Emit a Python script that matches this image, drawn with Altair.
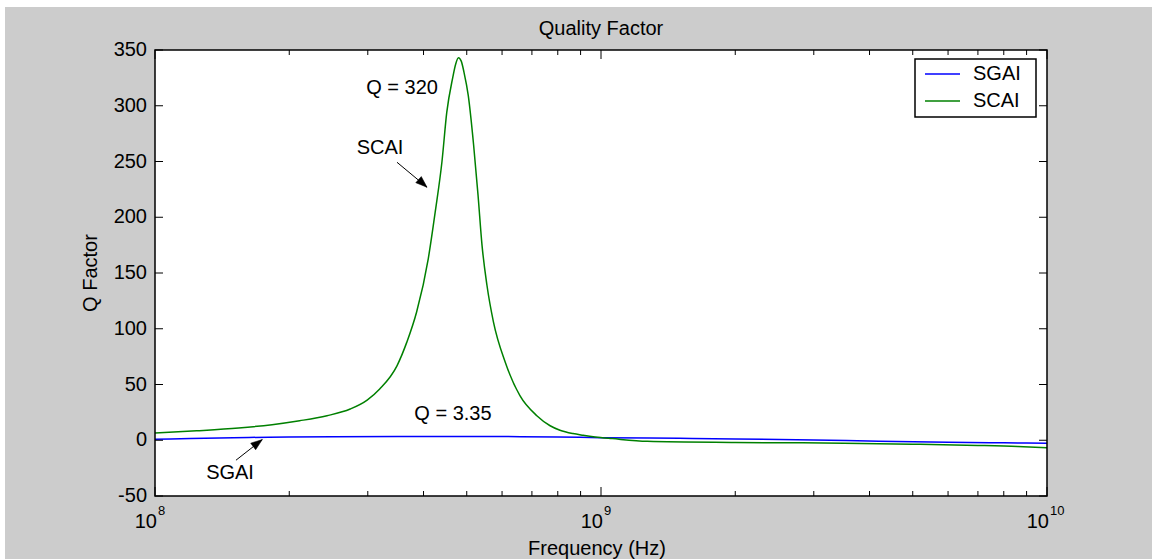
import altair as alt
import pandas as pd

# ---------------- data ----------------
scai_freq = [1.00e8, 1.24e8, 1.54e8, 1.83e8, 2.11e8, 2.43e8, 2.74e8, 2.99e8, 3.19e8,
             3.49e8, 3.67e8, 3.86e8, 4.10e8, 4.25e8, 4.40e8, 4.51e8, 4.65e8, 4.72e8,
             4.79e8, 4.86e8, 4.93e8, 5.04e8, 5.18e8, 5.30e8, 5.41e8, 5.55e8, 5.74e8,
             6.10e8, 6.58e8, 7.18e8, 7.69e8, 8.09e8, 8.65e8, 9.12e8, 9.70e8, 1.06e9,
             1.27e9, 2.0e9, 3.5e9, 5.0e9, 7.0e9, 8.6e9, 1.0e10]
scai_q = [6.5, 8.5, 11, 14, 17.5, 22, 28, 36, 46,
          67, 88, 115, 163, 205, 250, 294, 325, 337,
          343, 340, 330, 309, 265, 220, 175, 139, 106,
          70, 40, 22, 13, 9, 6, 4.5, 3, 1.5,
          -1, -2, -2.6, -3.5, -4.6, -5.6, -6.8]

sgai_freq = [1.0e8, 1.2e8, 1.5e8, 1.8e8, 2.5e8, 3.5e8, 4.8e8, 6.0e8, 8.0e8, 1.0e9,
             1.5e9, 2.0e9, 3.0e9, 4.2e9, 6.0e9, 8.0e9, 1.0e10]
sgai_q = [1.0, 1.5, 2.2, 2.8, 3.1, 3.3, 3.35, 3.3, 2.9, 2.3,
          1.7, 1.2, 0.2, -0.8, -1.7, -2.3, -2.8]

series_names = ["SGAI", "SCAI"]
series_colors = ["#0000ff", "#008000"]

y_ticks = [-50, 0, 50, 100, 150, 200, 250, 300, 350]
y_tick_labels = ["-50", "0", "50", "100", "150", "200", "250", "300", "350"]
x_major = [1e8, 1e9, 1e10]
x_major_exp = ["8", "9", "10"]
x_minor = [2e8, 3e8, 4e8, 5e8, 6e8, 7e8, 8e8, 9e8,
           2e9, 3e9, 4e9, 5e9, 6e9, 7e9, 8e9, 9e9]

chart_title = "Quality Factor"
x_title = "Frequency (Hz)"
y_title = "Q Factor"

# annotations (data coordinates)
ann_text = ["Q = 320", "SCAI", "Q = 3.35", "SGAI"]
ann_freq = [3.58e8, 3.196e8, 4.656e8, 1.473e8]
ann_q = [315.7, 261.9, 23.3, -29.6]

arrow_start_freq = [3.488e8, 1.519e8]
arrow_start_q = [249.3, -17.9]
arrow_tip_freq = [4.073e8, 1.740e8]
arrow_tip_q = [226.9, 0.6]
arrow_angle = [132, 53]

FONT = "Liberation Sans"
FS = 20
W, H = 892, 446

# ---------------- tables ----------------
lines_df = pd.DataFrame({
    "freq": sgai_freq + scai_freq,
    "q": sgai_q + scai_q,
    "series": ["SGAI"] * len(sgai_freq) + ["SCAI"] * len(scai_freq),
})
ytick_df = pd.DataFrame({"q": y_ticks, "label": y_tick_labels})
xmaj_df = pd.DataFrame({"freq": x_major, "base": ["10"] * 3, "exp": x_major_exp})
xmin_df = pd.DataFrame({"freq": x_minor})
ann_df = pd.DataFrame({"freq": ann_freq, "q": ann_q, "label": ann_text})
arrow_df = pd.DataFrame({"freq": arrow_start_freq, "q": arrow_start_q,
                         "freq2": arrow_tip_freq, "q2": arrow_tip_q})
head_df = pd.DataFrame({"freq": arrow_tip_freq, "q": arrow_tip_q, "angle": arrow_angle})
one = pd.DataFrame({"a": [0]})

xscale = alt.Scale(type="log", domain=[1e8, 1e10], nice=False)
yscale = alt.Scale(domain=[-50, 350], nice=False, zero=False)
cscale = alt.Scale(domain=series_names, range=series_colors)

Xn = alt.X("freq:Q", scale=xscale, axis=None)
Yn = alt.Y("q:Q", scale=yscale, axis=None)


def txt(**kw):
    base = dict(font=FONT, fontSize=FS, color="black")
    base.update(kw)
    return base


lines = alt.Chart(lines_df).mark_line(strokeWidth=1.5, clip=True, interpolate="monotone").encode(
    x=Xn, y=Yn,
    color=alt.Color("series:N", scale=cscale, legend=None),
    detail="series:N",
)

ytick_l = alt.Chart(ytick_df).mark_rule(color="black").encode(
    y=Yn, x=alt.value(0), x2=alt.value(8))
ytick_r = alt.Chart(ytick_df).mark_rule(color="black").encode(
    y=Yn, x=alt.value(W - 8), x2=alt.value(W))
ylab = alt.Chart(ytick_df).mark_text(**txt(align="right", baseline="middle")).encode(
    y=Yn, x=alt.value(-8), text="label:N")

xmaj_b = alt.Chart(xmaj_df).mark_rule(color="black").encode(
    x=Xn, y=alt.value(H), y2=alt.value(H - 9))
xmaj_t = alt.Chart(xmaj_df).mark_rule(color="black").encode(
    x=Xn, y=alt.value(0), y2=alt.value(9))
xmin_b = alt.Chart(xmin_df).mark_rule(color="black").encode(
    x=Xn, y=alt.value(H), y2=alt.value(H - 5))
xmin_t = alt.Chart(xmin_df).mark_rule(color="black").encode(
    x=Xn, y=alt.value(0), y2=alt.value(5))

xlab_base = alt.Chart(xmaj_df).mark_text(**txt(align="right", baseline="alphabetic", dx=2)).encode(
    x=Xn, y=alt.value(H + 32), text="base:N")
xlab_exp = alt.Chart(xmaj_df).mark_text(**txt(fontSize=13, align="left", baseline="alphabetic", dx=3)).encode(
    x=Xn, y=alt.value(H + 19), text="exp:N")

title_txt = alt.Chart(one).mark_text(**txt(align="center", baseline="alphabetic")).encode(
    x=alt.value(W / 2), y=alt.value(-15), text=alt.value(chart_title))
xtitle_txt = alt.Chart(one).mark_text(**txt(align="center", baseline="alphabetic")).encode(
    x=alt.value(W / 2 - 4), y=alt.value(H + 59), text=alt.value(x_title))
ytitle_txt = alt.Chart(one).mark_text(**txt(align="center", baseline="middle", angle=270)).encode(
    x=alt.value(-64), y=alt.value(H / 2), text=alt.value(y_title))

ann = alt.Chart(ann_df).mark_text(**txt(align="center", baseline="middle")).encode(
    x=Xn, y=Yn, text="label:N")
arrows = alt.Chart(arrow_df).mark_rule(color="black", strokeWidth=1).encode(
    x=Xn, y=Yn, x2="freq2:Q", y2="q2:Q")
heads = alt.Chart(head_df).mark_point(
    shape="M0,0L-0.36,1L0.36,1Z", filled=True, fill="black", stroke="black",
    strokeWidth=0.5, size=520, opacity=1
).encode(x=Xn, y=Yn, angle=alt.Angle("angle:Q", scale=None))

# legend box (MATLAB style, inside the axes)
leg_box = alt.Chart(one).mark_rect(fill="white", stroke="#000000", strokeWidth=1.5).encode(
    x=alt.value(760), x2=alt.value(881), y=alt.value(9), y2=alt.value(67))
leg_rows = [24, 51]
leg_layers = []
for name, col, ry in zip(series_names, series_colors, leg_rows):
    leg_layers.append(alt.Chart(one).mark_rule(strokeWidth=1.5, color=col).encode(
        x=alt.value(770), x2=alt.value(805), y=alt.value(ry)))
    leg_layers.append(alt.Chart(one).mark_text(**txt(align="left", baseline="middle")).encode(
        x=alt.value(818), y=alt.value(ry), text=alt.value(name)))

# axes box
frame = alt.Chart(one).mark_rect(fillOpacity=0, stroke="#000000", strokeWidth=1.5,
                                 strokeOpacity=1).encode(
    x=alt.value(0), x2=alt.value(W), y=alt.value(0), y2=alt.value(H))

# thin white margins of the original screenshot
top_strip = alt.Chart(one).mark_rect(fill="white").encode(
    x=alt.value(-155), x2=alt.value(W + 105), y=alt.value(-50), y2=alt.value(-43))
left_strip = alt.Chart(one).mark_rect(fill="white").encode(
    x=alt.value(-155), x2=alt.value(-150), y=alt.value(-50), y2=alt.value(H + 63))

chart = alt.layer(
    lines, ytick_l, ytick_r, ylab, xmaj_b, xmaj_t, xmin_b, xmin_t,
    xlab_base, xlab_exp, title_txt, xtitle_txt, ytitle_txt, ann, arrows, heads,
    leg_box, *leg_layers, frame, top_strip, left_strip,
).properties(
    width=W, height=H,
    autosize=alt.AutoSizeParams(type="none"),
    padding={"left": 155, "top": 50, "right": 105, "bottom": 63},
    background="#cccccc",
).configure(font=FONT).configure_view(
    fill="white", stroke=None
)

chart.save("out.html", embed_options={"renderer": "svg", "actions": False})
